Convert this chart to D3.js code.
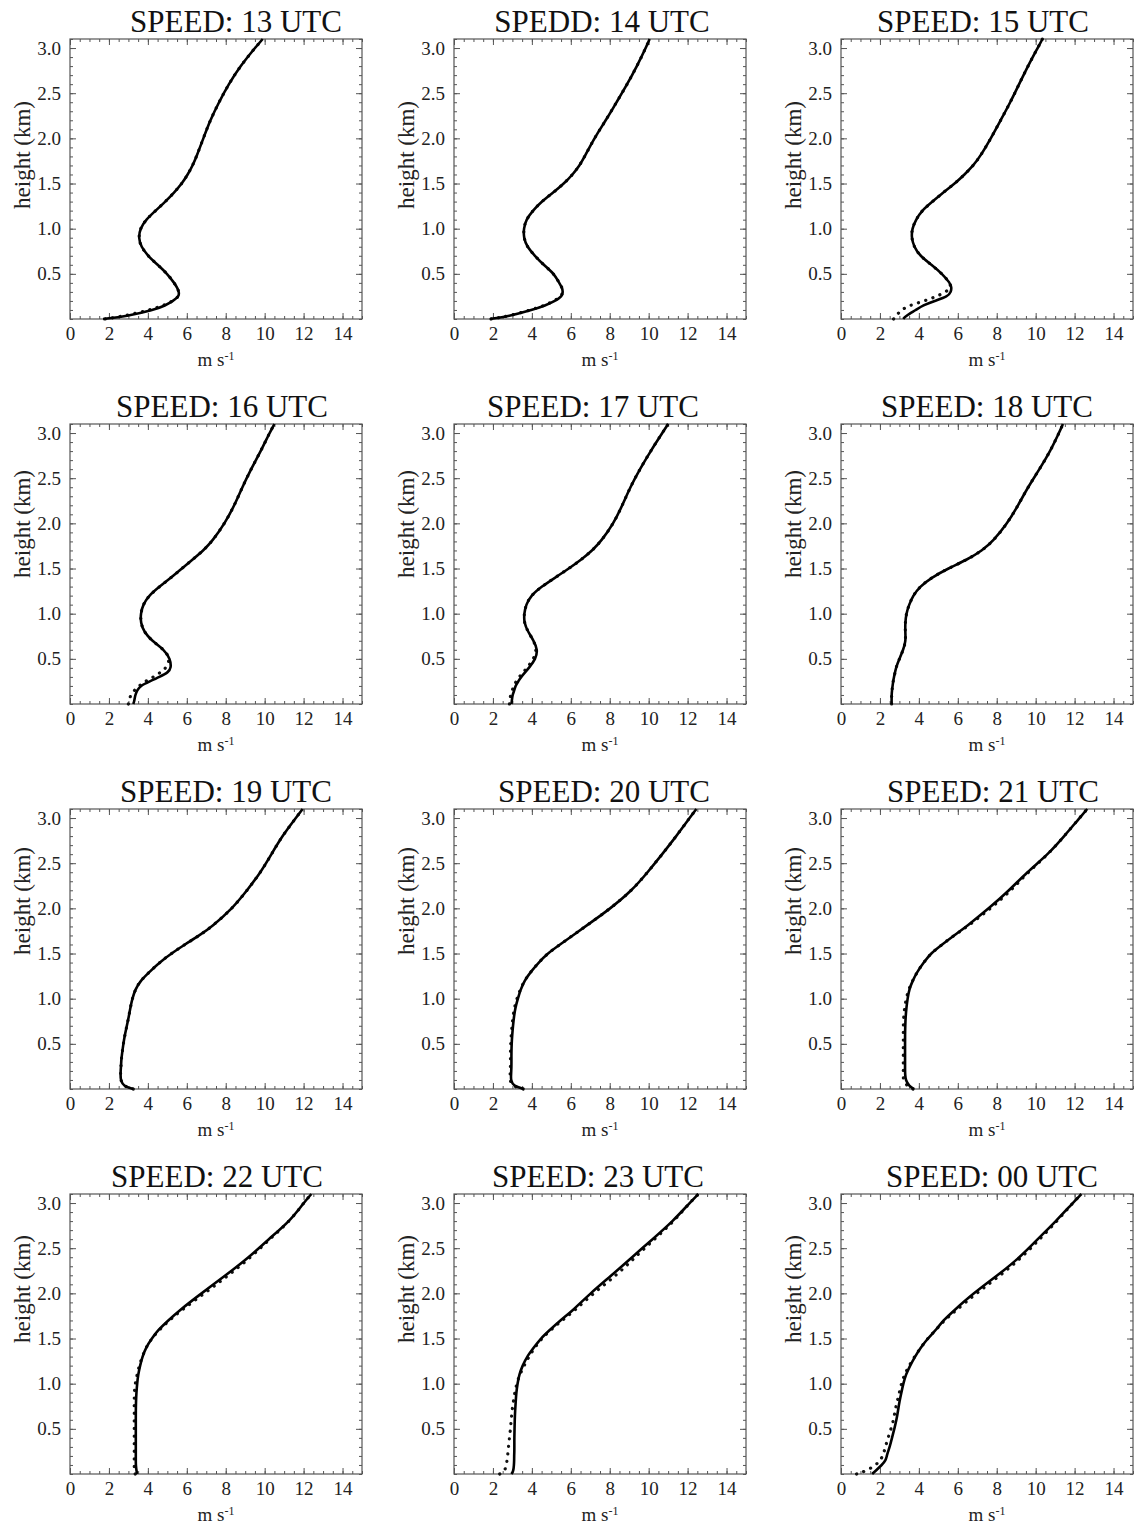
<!DOCTYPE html>
<html><head><meta charset="utf-8">
<script src="https://cdn.jsdelivr.net/npm/d3@7"></script>
<style>body{margin:0;background:#fff}</style>
</head><body>
<svg id="chart" width="1135" height="1530"></svg>
<script>
// ---------- data ----------
const titles = ["SPEED: 13 UTC","SPEDD: 14 UTC","SPEED: 15 UTC",
                "SPEED: 16 UTC","SPEED: 17 UTC","SPEED: 18 UTC",
                "SPEED: 19 UTC","SPEED: 20 UTC","SPEED: 21 UTC",
                "SPEED: 22 UTC","SPEED: 23 UTC","SPEED: 00 UTC"];
const xTicks = [0,2,4,6,8,10,12,14];
const yTicks = [0.5,1.0,1.5,2.0,2.5,3.0];
const xLabel = "m s";
const xLabelSup = "-1";
const yLabel = "height (km)";
// heights (km) at which speeds are given
const heights = [0,0.03,0.1,0.15,0.2,0.25,0.3,0.35,0.4,0.5,0.6,0.7,0.8,0.9,1.0,1.1,1.2,1.3,1.4,1.5,1.6,1.7,1.8,2.0,2.2,2.4,2.6,2.8,3.0,3.1];
// solid-line speeds (m/s)
const solid13 = [1.7,2.9,4.3,4.9,5.3,5.6,5.6,5.5,5.35,5.0,4.5,4.0,3.65,3.52,3.6,3.9,4.4,4.9,5.35,5.75,6.05,6.3,6.5,6.85,7.2,7.65,8.15,8.75,9.5,9.9];
const solid14 = [1.85,2.8,4.0,4.7,5.2,5.55,5.6,5.55,5.4,5.15,4.6,4.15,3.75,3.58,3.58,3.7,4.05,4.5,5.1,5.65,6.1,6.45,6.72,7.2,7.8,8.35,8.9,9.4,9.85,10.05];
const solid15 = [3.2,3.3,3.85,4.2,4.8,5.5,5.65,5.68,5.6,5.2,4.65,4.05,3.75,3.62,3.65,3.85,4.15,4.7,5.25,5.85,6.35,6.8,7.15,7.7,8.2,8.7,9.15,9.6,10.1,10.35];
const solid16 = [3.25,3.3,3.35,3.45,3.6,4.1,4.6,5.05,5.2,5.15,4.85,4.2,3.8,3.63,3.63,3.75,4.05,4.6,5.2,5.75,6.3,6.85,7.3,7.95,8.45,8.85,9.3,9.8,10.25,10.5];
const solid17 = [2.95,2.97,3.0,3.1,3.15,3.3,3.45,3.65,3.85,4.2,4.3,4.1,3.8,3.6,3.6,3.7,3.95,4.5,5.2,5.9,6.55,7.1,7.55,8.2,8.65,9.05,9.55,10.1,10.7,11.0];
const solid18 = [2.6,2.6,2.6,2.62,2.65,2.68,2.72,2.78,2.82,3.0,3.2,3.33,3.3,3.3,3.35,3.5,3.7,4.05,4.65,5.5,6.5,7.25,7.8,8.55,9.1,9.6,10.2,10.75,11.2,11.4];
const solid19 = [3.25,2.75,2.6,2.6,2.6,2.62,2.63,2.65,2.68,2.74,2.82,2.92,3.02,3.1,3.2,3.35,3.62,4.1,4.6,5.2,5.9,6.65,7.3,8.35,9.1,9.8,10.35,10.9,11.6,11.95];
const solid20 = [3.6,3.05,2.92,2.93,2.94,2.95,2.95,2.95,2.95,2.96,2.99,3.03,3.08,3.15,3.28,3.42,3.62,3.95,4.35,4.8,5.45,6.1,6.75,8.05,9.15,9.95,10.7,11.42,12.1,12.45];
const solid21 = [3.75,3.5,3.32,3.3,3.29,3.29,3.29,3.29,3.29,3.29,3.29,3.3,3.32,3.36,3.42,3.5,3.68,3.92,4.25,4.6,5.2,5.8,6.45,7.6,8.65,9.55,10.65,11.47,12.25,12.65];
const solid22 = [3.45,3.42,3.38,3.38,3.38,3.38,3.38,3.38,3.38,3.38,3.38,3.38,3.39,3.41,3.45,3.5,3.6,3.72,3.9,4.2,4.55,5.05,5.55,6.75,8.0,9.2,10.2,11.3,12.0,12.4];
const solid23 = [2.95,3.05,3.08,3.09,3.09,3.1,3.1,3.1,3.1,3.11,3.12,3.14,3.17,3.2,3.26,3.35,3.52,3.75,4.1,4.45,4.95,5.45,6.05,7.0,8.1,9.15,10.2,11.25,12.1,12.55];
const solid00 = [1.6,1.75,2.1,2.3,2.35,2.42,2.5,2.56,2.62,2.74,2.85,2.93,3.0,3.1,3.2,3.33,3.55,3.8,4.1,4.45,4.9,5.25,5.75,6.8,8.05,9.2,10.1,11.05,11.9,12.35];
// dotted-line speeds (m/s)
const dotted13 = [1.8,2.7,4.1,4.8,5.3,5.6,5.6,5.5,5.35,5.0,4.5,4.0,3.65,3.52,3.6,3.9,4.4,4.9,5.35,5.75,6.05,6.3,6.5,6.85,7.2,7.65,8.15,8.75,9.5,9.9];
const dotted14 = [1.9,2.75,3.95,4.65,5.15,5.5,5.6,5.55,5.4,5.15,4.6,4.15,3.75,3.58,3.58,3.7,4.05,4.5,5.1,5.65,6.1,6.45,6.72,7.2,7.8,8.35,8.9,9.4,9.85,10.05];
const dotted15 = [2.7,2.8,3.1,3.5,4.3,4.9,5.4,5.65,5.6,5.2,4.65,4.05,3.75,3.62,3.65,3.85,4.15,4.7,5.25,5.85,6.35,6.8,7.15,7.7,8.2,8.7,9.15,9.6,10.1,10.35];
const dotted16 = [3.0,3.05,3.1,3.3,3.55,3.85,4.3,4.65,4.95,5.15,4.85,4.2,3.8,3.63,3.63,3.75,4.05,4.6,5.2,5.75,6.3,6.85,7.3,7.95,8.45,8.85,9.3,9.8,10.25,10.5];
const dotted17 = [2.85,2.87,2.9,3.0,3.05,3.2,3.35,3.55,3.75,4.1,4.25,4.1,3.8,3.6,3.6,3.7,3.95,4.5,5.2,5.9,6.55,7.1,7.55,8.2,8.65,9.05,9.55,10.1,10.7,11.0];
const dotted18 = [2.6,2.6,2.6,2.62,2.65,2.68,2.72,2.78,2.82,3.0,3.2,3.33,3.3,3.3,3.35,3.5,3.7,4.05,4.65,5.5,6.5,7.25,7.8,8.55,9.1,9.6,10.2,10.75,11.2,11.4];
const dotted19 = [3.25,2.75,2.6,2.6,2.6,2.62,2.63,2.65,2.68,2.74,2.82,2.92,3.02,3.1,3.2,3.35,3.62,4.1,4.6,5.2,5.9,6.65,7.3,8.35,9.1,9.8,10.35,10.9,11.6,11.95];
const dotted20 = [3.55,3.0,2.87,2.88,2.89,2.9,2.9,2.9,2.9,2.91,2.94,2.98,3.03,3.1,3.23,3.4,3.62,3.95,4.35,4.8,5.45,6.1,6.75,8.05,9.15,9.95,10.7,11.42,12.1,12.45];
const dotted21 = [3.7,3.4,3.2,3.2,3.2,3.2,3.2,3.2,3.2,3.2,3.2,3.2,3.22,3.27,3.35,3.47,3.68,3.92,4.25,4.6,5.2,5.8,6.5,7.7,8.75,9.6,10.65,11.47,12.25,12.65];
const dotted22 = [3.35,3.3,3.3,3.3,3.3,3.3,3.3,3.3,3.3,3.3,3.3,3.3,3.3,3.3,3.35,3.45,3.55,3.72,3.9,4.2,4.6,5.1,5.65,6.9,8.15,9.3,10.25,11.3,12.0,12.4];
const dotted23 = [2.35,2.6,2.7,2.72,2.75,2.78,2.8,2.82,2.85,2.9,2.94,2.98,3.05,3.12,3.22,3.38,3.6,3.85,4.15,4.5,5.0,5.55,6.15,7.15,8.35,9.3,10.3,11.3,12.1,12.55];
const dotted00 = [0.8,1.25,1.8,2.0,2.15,2.22,2.28,2.35,2.42,2.57,2.7,2.78,2.88,3.0,3.1,3.26,3.5,3.78,4.1,4.45,4.9,5.3,5.85,6.95,8.2,9.3,10.2,11.1,11.9,12.35];

const solidSeries = [solid13,solid14,solid15,solid16,solid17,solid18,solid19,solid20,solid21,solid22,solid23,solid00];
const dottedSeries = [dotted13,dotted14,dotted15,dotted16,dotted17,dotted18,dotted19,dotted20,dotted21,dotted22,dotted23,dotted00];

// ---------- layout ----------
const colLeft = [70, 454, 841];
const rowTop = [39, 424, 809, 1194];
const W = 292, H = 280;
const rowLabelShift = [-24, -40, -48, -45];
const titleDx = [20, 2, -4, 6, -7, 0, 10, 4, 6, 1, -2, 5];
const font = "'Liberation Serif','Times New Roman',serif";
const axisColor = "#555";

const svg = d3.select("#chart");
svg.append("rect").attr("width",1135).attr("height",1530).attr("fill","#fff");

const x = d3.scaleLinear().domain([0,15]).range([0,W]);
const y = d3.scaleLinear().domain([0,3.1]).range([H,0]);
const xMinor = d3.range(0, 15.01, 0.5);
const yMinor = d3.range(0, 3.101, 0.1).map(v => +v.toFixed(2));

const line = d3.line()
  .x(d => x(d[1])).y(d => y(d[0]))
  .curve(d3.curveBasis);

function styleAxis(sel){
  sel.select(".domain").remove();
  sel.selectAll(".tick line").attr("stroke", axisColor).attr("stroke-width", 1);
  sel.selectAll("text").attr("font-family", font).attr("font-size", 19).attr("fill", "#222");
}

titles.forEach((t, i) => {
  const r = Math.floor(i/3), c = i % 3;
  const g = svg.append("g").attr("transform", `translate(${colLeft[c]},${rowTop[r]})`);

  // minor ticks (all sides, inward)
  g.append("g").attr("transform",`translate(0,${H})`).call(d3.axisBottom(x).tickValues(xMinor).tickSize(-3).tickFormat("")).call(styleAxis);
  g.append("g").call(d3.axisTop(x).tickValues(xMinor).tickSize(-3).tickFormat("")).call(styleAxis);
  g.append("g").call(d3.axisLeft(y).tickValues(yMinor).tickSize(-3).tickFormat("")).call(styleAxis);
  g.append("g").attr("transform",`translate(${W},0)`).call(d3.axisRight(y).tickValues(yMinor).tickSize(-3).tickFormat("")).call(styleAxis);
  // major ticks
  g.append("g").attr("transform",`translate(0,${H})`)
    .call(d3.axisBottom(x).tickValues(xTicks).tickSize(-6).tickPadding(8).tickFormat(d3.format("d"))).call(styleAxis);
  g.append("g").call(d3.axisTop(x).tickValues(xTicks).tickSize(-6).tickFormat("")).call(styleAxis);
  g.append("g")
    .call(d3.axisLeft(y).tickValues(yTicks).tickSize(-6).tickPadding(9).tickFormat(d3.format(".1f"))).call(styleAxis);
  g.append("g").attr("transform",`translate(${W},0)`).call(d3.axisRight(y).tickValues(yTicks).tickSize(-6).tickFormat("")).call(styleAxis);

  // frame
  g.append("rect").attr("width",W).attr("height",H).attr("fill","none")
    .attr("stroke",axisColor).attr("stroke-width",1.2);

  // curves
  const dData = heights.map((h,k) => [h, dottedSeries[i][k]]);
  const sData = heights.map((h,k) => [h, solidSeries[i][k]]);
  g.append("path").datum(dData).attr("d", line).attr("fill","none")
    .attr("stroke","#111").attr("stroke-width",3.2).attr("stroke-linecap","round")
    .attr("stroke-dasharray","0.1,7.5");
  g.append("path").datum(sData).attr("d", line).attr("fill","none")
    .attr("stroke","#000").attr("stroke-width",2.6).attr("stroke-linejoin","round");

  // title
  g.append("text").attr("x", W/2 + titleDx[i]).attr("y", -7).attr("text-anchor","middle")
    .attr("font-family", font).attr("font-size", 31).attr("fill","#111").text(t);

  // x label
  const xl = g.append("text").attr("x", W/2).attr("y", H + 47).attr("text-anchor","middle")
    .attr("font-family", font).attr("font-size", 19).attr("fill","#222");
  xl.append("tspan").text(xLabel);
  xl.append("tspan").attr("dy", -6).attr("font-size", 12).text(xLabelSup);

  // y label
  g.append("text").attr("transform", `translate(-48,${H/2 + rowLabelShift[r]}) rotate(-90)`)
    .attr("text-anchor","middle").attr("dy","0.35em")
    .attr("font-family", font).attr("font-size", 23).attr("fill","#222").text(yLabel);
});
</script>
</body></html>
